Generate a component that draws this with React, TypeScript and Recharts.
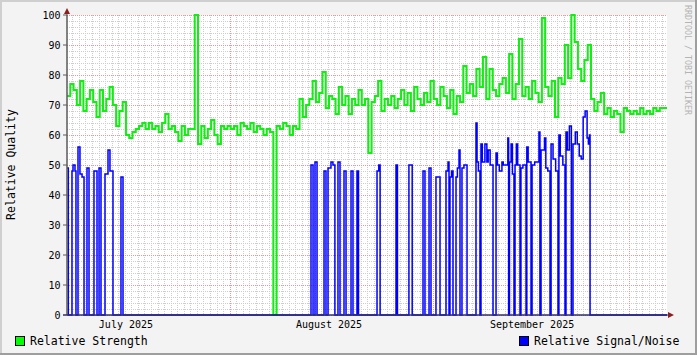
import React from 'react';
import { LineChart, Line, XAxis, YAxis, CartesianGrid } from 'recharts';

// Relative Strength, one value every half day from the left edge of the graph
const strengthValues = [
  73, 77, 75, 70, 78, 68, 72, 75, 71, 66,
  75, 68, 72, 76, 70, 63, 68, 71, 60, 59,
  61, 62, 63, 64, 62, 64, 62, 63, 61, 64,
  67, 62, 63, 61, 58, 63, 60, 62, 62, 100,
  57, 63, 59, 62, 65, 60, 57, 63, 62, 63,
  62, 63, 60, 64, 63, 62, 64, 61, 63, 62,
  60, 62, 61, 0, 63, 62, 64, 63, 60, 63,
  62, 72, 66, 70, 72, 78, 71, 74, 81, 69,
  73, 72, 67, 76, 70, 73, 67, 72, 70, 75,
  70, 72, 54, 71, 73, 78, 68, 72, 70, 73,
  69, 72, 75, 70, 74, 68, 76, 72, 70, 74,
  71, 78, 72, 70, 76, 73, 69, 75, 67, 73,
  71, 83, 74, 77, 73, 82, 76, 86, 72, 82,
  75, 73, 77, 79, 74, 87, 72, 77, 92, 73,
  76, 72, 78, 74, 71, 99, 76, 73, 78, 66,
  79, 77, 90, 79, 100, 91, 82, 78, 85, 90,
  72, 68, 71, 74, 67, 69, 66, 68, 67, 61,
  69, 68, 67, 68, 67, 69, 67, 68, 67, 69,
  68, 69, 69, 69,
];
const strengthStep = 0.5;

// Relative Signal/Noise, change points (day, value)
const noiseDays = [
  0, 0.2, 0.76, 0.92, 1.22, 1.37, 1.68, 1.98, 2.3, 2.6,
  3.05, 3.36, 4.12, 4.58, 4.89, 5.19, 5.8, 6.26, 6.56, 7.02,
  8.24, 8.55,
  37.25, 37.56, 37.86, 38.17, 39.24, 39.54, 39.85, 40.3, 40.6, 40.9,
  41.37, 41.68, 42.29, 42.6, 43.36, 43.66, 44.27, 44.5,
  47.33, 47.6, 47.8, 50.23, 50.45, 52.2, 52.7, 54.35, 54.65,
  55.27, 55.57, 56.33, 56.95,
  57.86, 58.17, 58.32, 58.47, 58.7, 58.93,
  59.39, 59.6, 59.85, 60.0, 60.3, 60.6, 61.07,
  62.44, 62.6, 62.8, 63.05,
  63.2, 63.4, 63.8, 64.1, 64.3, 64.6, 65.04,
  65.5, 65.7, 66.0, 66.4, 66.6, 67.3, 67.42,
  67.55, 67.8, 68.0, 68.24,
  68.4, 68.6, 68.8, 69.16,
  69.3, 69.6, 70.08,
  70.2, 70.4, 70.84,
  71.0, 71.4, 72.05, 72.2,
  72.37, 72.9, 73.1, 73.4, 73.74,
  73.9, 74.2, 74.6, 74.96,
  75.1, 75.3, 75.7, 76.03,
  76.18, 76.4, 76.7, 77.0,
  77.25, 77.6, 77.9, 78.2, 78.5, 78.8, 79.1, 79.4, 79.6, 79.75, 79.85,
  91.6,
];
const noiseValues = [
  49, 0, 48, 50, 48, 0, 56, 47, 46, 0,
  49, 0, 48, 0, 49, 0, 47, 55, 48, 0,
  46, 0,
  50, 0, 51, 0, 48, 0, 49, 51, 50, 0,
  51, 0, 48, 0, 48, 0, 48, 0,
  48, 50, 0, 50, 0, 50, 0, 48, 0,
  49, 0, 46, 0,
  48, 51, 0, 46, 48, 0,
  46, 49, 55, 0, 49, 50, 0,
  64, 51, 48, 0,
  57, 51, 57, 51, 55, 50, 0,
  54, 50, 48, 51, 50, 59, 0,
  51, 57, 47, 0,
  50, 57, 50, 0,
  49, 50, 0,
  56, 51, 0,
  50, 51, 61, 0,
  55, 59, 49, 48, 0,
  57, 52, 48, 0,
  60, 53, 50, 0,
  61, 55, 63, 0,
  57, 61, 57, 53, 52, 66, 68, 59, 57, 60, 0,
  0,
];

const totalDays = 91.6;
const monthLabelDays = [9, 40, 71];
const monthLabels = ['July 2025', 'August 2025', 'September 2025'];
const monthStartDays = [24.9, 55.9, 85.9];
const yTicks = [0, 10, 20, 30, 40, 50, 60, 70, 80, 90, 100];

const strengthData = [
  ...strengthValues.map((v, i) => ({ t: i * strengthStep, v })),
  { t: totalDays, v: strengthValues[strengthValues.length - 1] },
];
const noiseData = noiseDays.map((t, i) => ({ t, v: noiseValues[i] }));

const minorY: number[] = [];
for (let v = 2; v < 100; v += 2) if (v % 10 !== 0) minorY.push(v);
const minorX: number[] = [];
for (let d = 0.9; d < totalDays; d += 1) {
  if (!monthStartDays.some((m) => Math.abs(m - d) < 0.01)) minorX.push(d);
}

const FONT = '"DejaVu Sans Mono", monospace';

export default function App() {
  return (
    <div
      style={{
        position: 'absolute',
        left: 0,
        top: 0,
        width: 697,
        height: 355,
        background: '#f3f3f3',
        fontFamily: FONT,
      }}
    >
      <LineChart width={697} height={355} margin={{ top: 15, right: 30, bottom: 0, left: 0 }}>
        <CartesianGrid
          fill="#ffffff"
          stroke="#cdcdcd"
          strokeDasharray="1 1"
          shapeRendering="crispEdges"
          horizontalValues={minorY}
          verticalValues={minorX}
        />
        <CartesianGrid
          stroke="#e29a9a"
          strokeDasharray="1 1"
          shapeRendering="crispEdges"
          horizontalValues={yTicks}
          verticalValues={monthStartDays}
        />
        <XAxis
          type="number"
          dataKey="t"
          domain={[0, totalDays]}
          allowDataOverflow
          ticks={monthLabelDays}
          tickFormatter={(d: number) => monthLabels[monthLabelDays.indexOf(d)] ?? ''}
          interval={0}
          height={40}
          tickLine={false}
          tickSize={0}
          tickMargin={6}
          axisLine={{ stroke: '#5a5a5a' }}
          tick={{ fontSize: 10, fill: '#000', fontFamily: FONT }}
        />
        <YAxis
          type="number"
          domain={[0, 100]}
          ticks={yTicks}
          interval={0}
          width={67}
          tickSize={4}
          tickMargin={2.5}
          tickLine={{ stroke: '#5a5a5a' }}
          axisLine={{ stroke: '#5a5a5a' }}
          tick={{ fontSize: 10, fill: '#000', fontFamily: FONT }}
        />
        <Line
          data={strengthData}
          dataKey="v"
          type="stepAfter"
          stroke="#11ee11"
          strokeWidth={2}
          dot={false}
          activeDot={false}
          isAnimationActive={false}
        />
        <Line
          data={noiseData}
          dataKey="v"
          type="stepAfter"
          stroke="#0000ff"
          strokeWidth={1.5}
          dot={false}
          activeDot={false}
          isAnimationActive={false}
        />
      </LineChart>
      <svg
        width={697}
        height={355}
        style={{ position: 'absolute', left: 0, top: 0, pointerEvents: 'none' }}
      >
        {/* frame */}
        <rect x={0} y={0} width={697} height={2} fill="#cfcfcf" />
        <rect x={0} y={0} width={2} height={355} fill="#cfcfcf" />
        <rect x={0} y={353} width={697} height={2} fill="#9e9e9e" />
        <rect x={695} y={0} width={2} height={355} fill="#9e9e9e" />
        {/* axis arrows */}
        <line x1={67} y1={315} x2={67} y2={10} stroke="#5a5a5a" strokeWidth={1} />
        <line x1={63} y1={315} x2={670} y2={315} stroke="#1a1a6a" strokeWidth={1} />
        <polygon points="64,14 70,14 67,8" fill="#8b1f1f" />
        <polygon points="668,312 668,318 674,315" fill="#8b1f1f" />
        <text
          x={15}
          y={164.5}
          transform="rotate(-90 15 164.5)"
          textAnchor="middle"
          fontSize={11.5}
          fontFamily={FONT}
          fill="#000"
        >
          Relative Quality
        </text>
        <text
          x={685}
          y={5}
          transform="rotate(90 685 5)"
          textAnchor="start"
          fontSize={8.3}
          fontFamily={FONT}
          fill="#b4b4b4"
        >
          RRDTOOL / TOBI OETIKER
        </text>
        {/* legend */}
        <rect x={15.5} y={336.5} width={9} height={9} fill="#00ff00" stroke="#000" />
        <text x={30} y={345} fontSize={11.5} fontFamily={FONT} fill="#000">
          Relative Strength
        </text>
        <rect x={519.5} y={336.5} width={9} height={9} fill="#0000ff" stroke="#000" />
        <text x={534} y={345} fontSize={11.5} fontFamily={FONT} fill="#000">
          Relative Signal/Noise
        </text>
      </svg>
    </div>
  );
}
